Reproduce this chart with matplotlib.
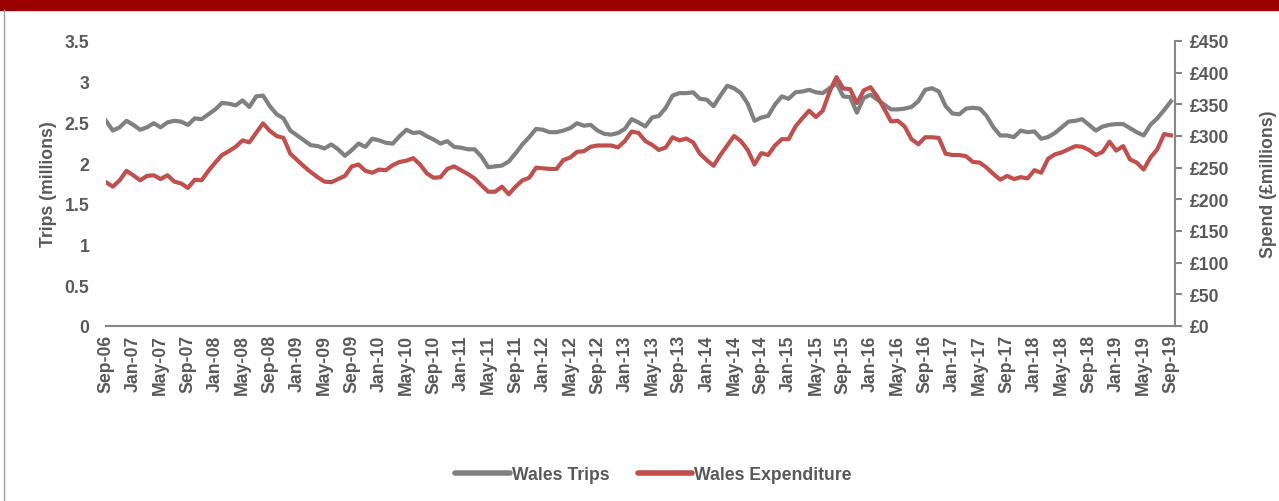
import matplotlib
matplotlib.use("Agg")
import matplotlib.pyplot as plt
from matplotlib.lines import Line2D

plt.rcParams['font.family'] = ['Liberation Sans', 'DejaVu Sans']

# monthly series, Sep-06 .. Sep-19
trips = [2.52, 2.40, 2.44, 2.52, 2.47, 2.41, 2.44, 2.49, 2.44, 2.50,
         2.52, 2.51, 2.47, 2.55, 2.54, 2.60, 2.66, 2.74, 2.73, 2.71,
         2.77, 2.69, 2.82, 2.83, 2.70, 2.60, 2.55, 2.40, 2.34, 2.28,
         2.22, 2.21, 2.18, 2.23, 2.17, 2.09, 2.16, 2.24, 2.20, 2.30,
         2.28, 2.25, 2.24, 2.33, 2.41, 2.37, 2.38, 2.33, 2.29, 2.24,
         2.27, 2.20, 2.19, 2.17, 2.17, 2.08, 1.95, 1.96, 1.97, 2.02,
         2.12, 2.23, 2.32, 2.42, 2.41, 2.38, 2.38, 2.40, 2.43, 2.49,
         2.46, 2.47, 2.40, 2.36, 2.35, 2.37, 2.42, 2.54, 2.50, 2.45,
         2.56, 2.58, 2.68, 2.83, 2.86, 2.86, 2.87, 2.79, 2.78, 2.70,
         2.83, 2.95, 2.92, 2.86, 2.73, 2.52, 2.56, 2.58, 2.72, 2.82,
         2.79, 2.87, 2.88, 2.90, 2.87, 2.86, 2.92, 2.98, 2.82, 2.81,
         2.62, 2.80, 2.84, 2.78, 2.72, 2.66, 2.66, 2.67, 2.69, 2.76,
         2.90, 2.92, 2.88, 2.70, 2.61, 2.60, 2.67, 2.68, 2.67, 2.58,
         2.44, 2.34, 2.34, 2.32, 2.40, 2.38, 2.39, 2.30, 2.32, 2.37,
         2.44, 2.51, 2.52, 2.54, 2.47, 2.40, 2.45, 2.47, 2.48, 2.48,
         2.43, 2.38, 2.34, 2.47, 2.55, 2.65, 2.76]

spend = [227, 220, 230, 245, 238, 230, 237, 238, 232, 238,
         228, 225, 218, 231, 230, 245, 258, 270, 276, 283,
         293, 290, 305, 320, 308, 300, 297, 272, 262, 252,
         243, 235, 228, 227, 232, 237, 252, 255, 245, 242,
         247, 246, 254, 259, 261, 265, 255, 241, 234, 235,
         248, 252, 246, 240, 233, 222, 212, 212, 220, 208,
         220, 230, 234, 250, 249, 248, 248, 262, 266, 275,
         276, 283, 285, 285, 285, 282, 292, 307, 305, 292,
         286, 278, 282, 298, 293, 296, 290, 272, 262, 253,
         270, 285, 300, 292, 278, 255, 273, 270, 285, 295,
         295, 315, 328, 340, 330, 340, 370, 393, 375, 374,
         352, 372, 377, 362, 343, 323, 324, 315, 295, 287,
         298, 298, 297, 272, 270, 270, 268, 259, 258, 250,
         240, 231, 237, 232, 235, 233, 246, 242, 264, 271,
         274, 279, 284, 283, 278, 270, 275, 291, 277, 284,
         263, 258, 247, 266, 279, 303, 301]

months = ["Jan", "Feb", "Mar", "Apr", "May", "Jun",
          "Jul", "Aug", "Sep", "Oct", "Nov", "Dec"]
labels = []
for k in range(len(trips)):
    m = 8 + k
    labels.append("%s-%02d" % (months[m % 12], 6 + m // 12))

grey = "#808080"
red = "#C0504D"
txt = "#595959"
fs = 12.7

fig = plt.figure(figsize=(12.79, 5.02), dpi=100)
ax = fig.add_axes([106 / 1279, 1 - 327 / 502, (1175 - 106) / 1279, (327 - 42) / 502])
ax2 = ax.twinx()

x = list(range(len(trips)))
ax.plot(x, trips, color=grey, lw=3, solid_joinstyle="round")
ax2.plot(x, spend, color=red, lw=3, solid_joinstyle="round")
ax.set_zorder(ax2.get_zorder() - 1)
ax2.patch.set_visible(False)

ax.set_xlim(0, 156.6)
ax.set_ylim(0, 3.5)
ax2.set_ylim(0, 450)
ax.set_yticks([0, 0.5, 1, 1.5, 2, 2.5, 3, 3.5])
ax.set_yticklabels(["0", "0.5", "1", "1.5", "2", "2.5", "3", "3.5"])
ax2.set_yticks(range(0, 451, 50))
ax2.set_yticklabels(["£%d" % v for v in range(0, 451, 50)])
ax.set_xticks(x[::4])
ax.set_xticklabels(labels[::4], rotation=90)

for a in (ax, ax2):
    for s in a.spines.values():
        s.set_visible(False)
ax.spines["bottom"].set_visible(True)
ax.spines["bottom"].set_color("#868686")
ax.spines["bottom"].set_linewidth(1.5)
ax2.spines["right"].set_visible(True)
ax2.spines["right"].set_color("#868686")
ax2.spines["right"].set_linewidth(1.5)

ax.tick_params(axis="x", length=0, pad=6, labelsize=fs, labelcolor=txt)
ax.tick_params(axis="y", length=0, pad=12, labelsize=fs, labelcolor=txt)
ax2.tick_params(axis="y", length=5, width=1.5, color="#868686", pad=6,
                labelsize=fs, labelcolor=txt)
for t in ax.get_xticklabels() + ax.get_yticklabels() + ax2.get_yticklabels():
    t.set_fontweight("bold")

ax.set_ylabel("Trips (millions)", fontsize=fs, fontweight="bold", color=txt, labelpad=5.5)
ax2.set_ylabel("Spend (£millions)", fontsize=fs, fontweight="bold", color=txt, labelpad=22)

handles = [Line2D([], [], color=grey, lw=4, solid_capstyle="round"),
           Line2D([], [], color=red, lw=4, solid_capstyle="round")]
fig.legend(handles, ["Wales Trips", "Wales Expenditure"], loc="center",
           bbox_to_anchor=(0.511, 1 - 476 / 502), ncol=2, frameon=False,
           prop={"size": fs, "weight": "bold"}, labelcolor=txt,
           handlelength=3.1, handletextpad=0.1, columnspacing=1.6)

# red header band and left frame line
fig.patches.append(plt.Rectangle((0, 1 - 11 / 502), 1, 11 / 502,
                                 transform=fig.transFigure, color="#990000"))
fig.lines.append(Line2D([4 / 1279, 4 / 1279], [0, 1 - 11 / 502],
                        transform=fig.transFigure, color="#A0A0A0", lw=1))

fig.savefig("out.png", dpi=100)
